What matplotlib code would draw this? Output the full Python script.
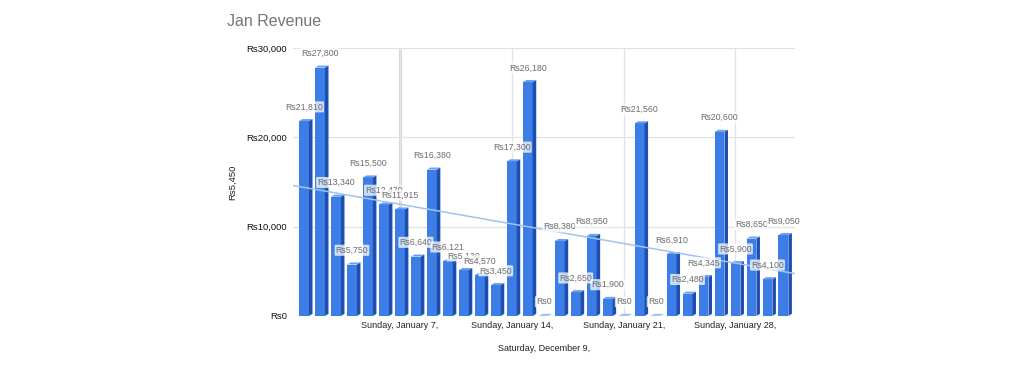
import numpy as np
import matplotlib
matplotlib.use("Agg")
import matplotlib.pyplot as plt
from matplotlib.patches import Polygon

plt.rcParams['font.family'] = ['Liberation Sans', 'DejaVu Sans']

days = list(range(1, 32))
revenue = [21810, 27800, 13340, 5750, 15500, 12470, 11915, 6640, 16380, 6121,
           5130, 4570, 3450, 17300, 26180, 0, 8380, 2650, 8950, 1900,
           0, 21560, 0, 6910, 2480, 4345, 20600, 5900, 8650, 4100, 9050]
tick_days = [7, 14, 21, 28]
tick_labels = ["Sunday, January 7,", "Sunday, January 14,",
               "Sunday, January 21,", "Sunday, January 28,"]
y_ticks = [0, 10000, 20000, 30000]
y_tick_labels = ["Rs0", "Rs10,000", "Rs20,000", "Rs30,000"]
title = "Jan Revenue"
x_title = "Saturday, December 9,"
y_title = "Rs5,450"

fig = plt.figure(figsize=(10.24, 3.66), dpi=100)
ax = fig.add_axes([0.286, 0.137, 0.490, 0.732])

x = np.array(days, dtype=float)
v = np.array(revenue, dtype=float)
w = 0.62
dx = 0.22
dy = 230

front = "#3c7de6"
side = "#1e4fb0"
top = "#6a9ff2"

ax.bar(x, v, width=w, color=front, zorder=3, linewidth=0)
for xi, vi in zip(x, v):
    r = xi + w / 2
    l = xi - w / 2
    ax.add_patch(Polygon([(r, 0), (r + dx, dy), (r + dx, vi + dy), (r, vi)],
                         closed=True, facecolor=side, edgecolor="none", zorder=3))
    ax.add_patch(Polygon([(l, vi), (r, vi), (r + dx, vi + dy), (l + dx, vi + dy)],
                         closed=True, facecolor=top if vi > 0 else "#9fbff5",
                         edgecolor="none", zorder=3))

# trendline (linear fit)
coef = np.polyfit(x, v, 1)
xl = np.array([0.3, 31.7])
ax.plot(xl, np.polyval(coef, xl), color="#9fc5ee", lw=1.1, zorder=4)

for xi, vi in zip(x, v):
    ax.annotate(f"Rs{int(vi):,}", (xi, vi), xytext=(0, 7), textcoords="offset points",
                ha="center", va="bottom", fontsize=6.3, color="#6b6b6b", zorder=6,
                bbox=dict(boxstyle="round,pad=0.12", fc="white", ec="none", alpha=0.75))

ax.set_xlim(0.3, 31.7)
ax.set_ylim(0, 30000)
ax.set_yticks(y_ticks)
ax.set_yticklabels(y_tick_labels, fontsize=6.8, color="#111111")
ax.set_xticks(tick_days)
ax.set_xticklabels(tick_labels, fontsize=6.5, color="#222222")
ax.tick_params(length=0, pad=4)
ax.grid(True, color="#e2e2e2", lw=0.9, zorder=0)
ax.axvline(tick_days[0], color="#d8d8d8", lw=2.2, zorder=0)
for s in ax.spines.values():
    s.set_visible(False)
ax.axhline(0, color="#cccccc", lw=0.8, zorder=2)

ax.set_xlabel(x_title, fontsize=6.5, color="#222222", labelpad=10)
ax.set_ylabel(y_title, fontsize=6.8, color="#222222", labelpad=7)
fig.text(0.222, 0.94, title, fontsize=11.5, color="#757575", ha="left", va="center")

fig.savefig("out.png", dpi=100)
